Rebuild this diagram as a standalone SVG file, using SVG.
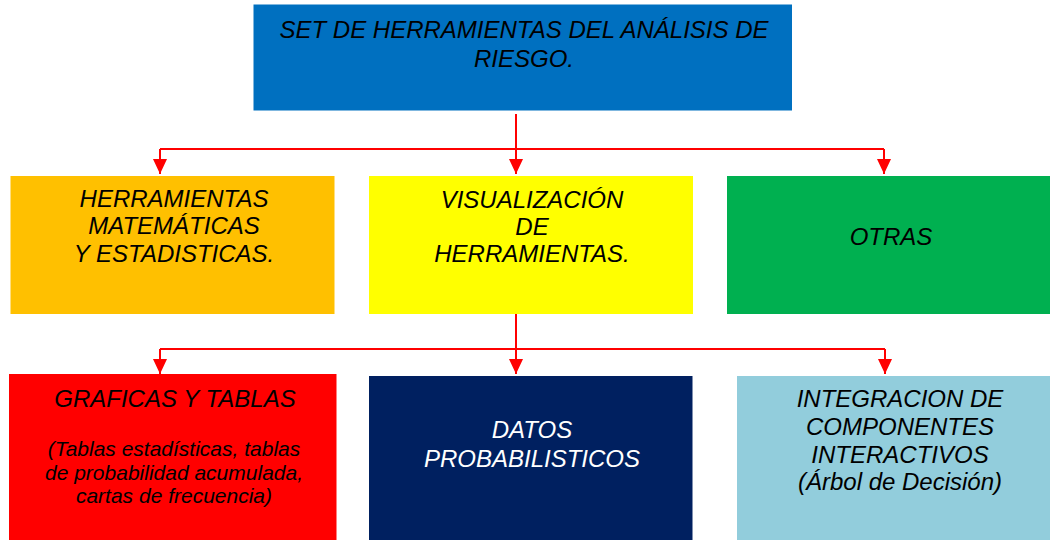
<svg xmlns="http://www.w3.org/2000/svg" width="1050" height="540" viewBox="0 0 1050 540">
<style>
  text { font-family: "Liberation Sans", Arial, sans-serif; font-style: italic; text-anchor: middle; fill: #000; }
  .t { font-size: 24px; }
  .s { font-size: 21px; }
  .w { fill: #fff; }
  .con { stroke: #ff0000; stroke-width: 2; fill: none; }
</style>
<defs>
  <marker id="ah" markerUnits="userSpaceOnUse" markerWidth="16" markerHeight="16" refX="15" refY="7" orient="auto">
    <path d="M0,0 L15,7 L0,14 z" fill="#ff0000"/>
  </marker>
</defs>
<rect width="1050" height="540" fill="#fff"/>

<g id="root">
  <rect x="253.5" y="4.5" width="538.5" height="106" fill="#0070c0"/>
  <text class="t" x="524" y="38">SET DE HERRAMIENTAS DEL ANÁLISIS DE</text>
  <text class="t" x="524" y="67">RIESGO.</text>
</g>

<g id="matematicas">
  <rect x="10.5" y="176" width="324" height="138" fill="#ffc000"/>
  <text class="t" x="174" y="207">HERRAMIENTAS</text>
  <text class="t" x="174" y="234">MATEMÁTICAS</text>
  <text class="t" x="174" y="261.5">Y ESTADISTICAS.</text>
</g>

<g id="visualizacion">
  <rect x="369" y="176" width="324" height="138" fill="#ffff00"/>
  <text class="t" x="532" y="208">VISUALIZACIÓN</text>
  <text class="t" x="532" y="235">DE</text>
  <text class="t" x="532" y="262">HERRAMIENTAS.</text>
</g>

<g id="otras">
  <rect x="727" y="176" width="323" height="138" fill="#00b050"/>
  <text class="t" x="891" y="245">OTRAS</text>
</g>

<g id="graficas">
  <rect x="9" y="374" width="327.5" height="166" fill="#ff0000"/>
  <text class="t" x="175" y="407">GRAFICAS Y TABLAS</text>
  <text class="s" x="174" y="456">(Tablas estadísticas, tablas</text>
  <text class="s" x="174" y="480">de probabilidad acumulada,</text>
  <text class="s" x="174" y="503">cartas de frecuencia)</text>
</g>

<g id="datos">
  <rect x="369" y="376" width="323.5" height="164" fill="#002060"/>
  <text class="t w" x="532" y="437.5">DATOS</text>
  <text class="t w" x="532" y="466.5">PROBABILISTICOS</text>
</g>

<g id="integracion">
  <rect x="737" y="376" width="313" height="164" fill="#92cddc"/>
  <text class="t" x="900" y="407">INTEGRACION DE</text>
  <text class="t" x="900" y="435">COMPONENTES</text>
  <text class="t" x="900" y="462.5">INTERACTIVOS</text>
  <text class="t" x="900" y="490">(Árbol de Decisión)</text>
</g>

<g id="connectors">
  <path class="con" d="M516,114 V174" marker-end="url(#ah)"/>
  <path class="con" d="M160,149 H884"/>
  <path class="con" d="M160,149 V174" marker-end="url(#ah)"/>
  <path class="con" d="M884,149 V174" marker-end="url(#ah)"/>
  <path class="con" d="M516,314 V374" marker-end="url(#ah)"/>
  <path class="con" d="M160,349 H885"/>
  <path class="con" d="M160,349 V374" marker-end="url(#ah)"/>
  <path class="con" d="M885,349 V374" marker-end="url(#ah)"/>
</g>
</svg>
